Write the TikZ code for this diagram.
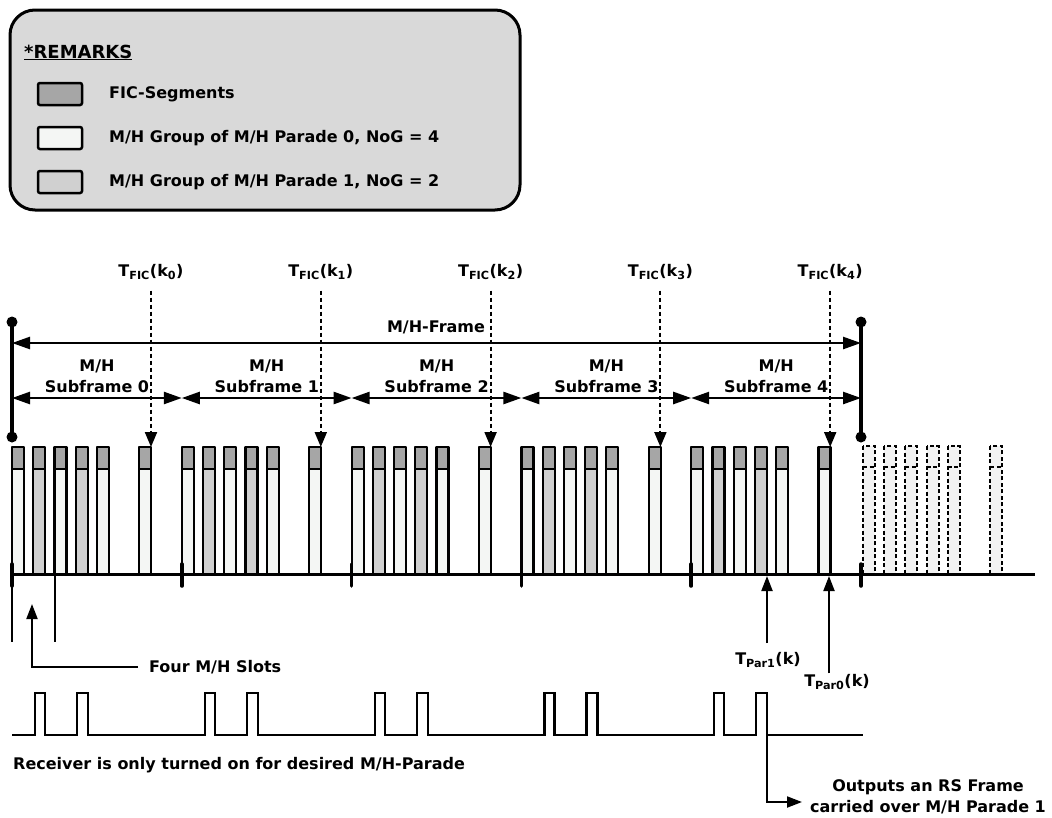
\documentclass[tikz,border=0pt]{standalone}
\usepackage{fontspec}
\setmainfont{DejaVu Sans}
\usetikzlibrary{arrows.meta, positioning}
\definecolor{remarkgray}{HTML}{D9D9D9}
\definecolor{ficgray}{HTML}{A6A6A6}
\definecolor{parzero}{HTML}{F4F6F4}
\definecolor{parone}{HTML}{D0D0D0}
\definecolor{emptyslot}{HTML}{F2F2F2}
\tikzset{
  lbl/.style={font=\bfseries\fontsize{16}{21}\selectfont, inner sep=1pt},
  slotbox/.style={line width=2.2pt, line join=round},
  dashslot/.style={line width=2pt, dash pattern=on 4pt off 2.5pt, fill=emptyslot},
  legendbox/.style={line width=2.5pt, rounded corners=2pt},
  span/.style={line width=2.5pt, {Triangle[length=18pt,width=12pt]}-{Triangle[length=18pt,width=12pt]}},
  ficarrow/.style={line width=2pt, dash pattern=on 4pt off 3pt, -{Triangle[length=15pt,width=12pt]}},
  uparrow/.style={line width=2pt, -{Triangle[length=15pt,width=11pt]}},
}

\begin{document}
\begin{tikzpicture}[x=1pt, y=-1pt]
    \useasboundingbox (0,0) rectangle (1052,817);

    % remarks
    \draw[line width=3pt, rounded corners=25pt, fill=remarkgray] (10,10) rectangle (520,210);
    \node[lbl, font=\bfseries\fontsize{18}{20}\selectfont, anchor=base west] (remarks) at (23,58) {\underline{*REMARKS}};
    \draw[legendbox, fill=ficgray] (38,83) rectangle (82,105);
    \draw[legendbox, fill=parzero] (38,127) rectangle (82,149);
    \draw[legendbox, fill=parone] (38,171) rectangle (82,193);
    \node[lbl, anchor=west] (legfic) at (108,94) {FIC-Segments};
    \node[lbl, anchor=west] (legpar0) at (108,138) {M/H Group of M/H Parade 0, NoG = 4};
    \node[lbl, anchor=west] (legpar1) at (108,182) {M/H Group of M/H Parade 1, NoG = 2};

    % frame and subframes
    \draw[line width=4pt] (12,322) -- (12,437);
    \draw[line width=4pt] (861,322) -- (861,437);
    \foreach \x in {12,861} {
        \fill (\x,322) circle (5.5);
        \fill (\x,437) circle (5.5);
    }
    \coordinate (fstart) at (12,343);
    \coordinate (fend) at (861,343);
    \draw[span] (fstart) -- (fend);
    \node[lbl] (frame) at (436,327) {M/H-Frame};

    \foreach \s in {0,...,4} {
        \coordinate (sf\s) at ({12+169.8*\s},398);
        \coordinate (sfe\s) at ({12+169.8*(\s+1)},398);
        \draw[span] (sf\s) -- (sfe\s);
        \node[lbl, align=center] (sflabel\s) at ({97+169.8*\s},376) {M/H\\Subframe \s};
    }

    % slots
    \foreach \s in {0,...,4} {
        \foreach \i/\col in {0/parzero,1/parone,2/parzero,3/parone,4/parzero,6/parzero} {
            \pgfmathsetmacro\xl{12+169.8*\s+21.22*\i}
            \fill[\col] (\xl,469) rectangle ++(12,105);
            \fill[ficgray] (\xl,447) rectangle ++(12,22);
            \draw[slotbox] (\xl,447) rectangle ++(12,127);
            \draw[slotbox] (\xl,469) -- ++(12,0);
        }
    }
    \foreach \i in {0,...,4,6} {
        \pgfmathsetmacro\xl{863+21.22*\i}
        \draw[dashslot] (\xl,446) rectangle ++(12,128);
        \draw[dashslot] (\xl,467) -- ++(12,0);
    }
    \draw[line width=3pt] (12,574) -- (1035,574);
    \foreach \s in {0,...,5}
        \draw[line width=3.5pt, line cap=round] ({12+169.8*\s},564) -- ++(0,22);

    % FIC arrows
    \foreach \s in {0,...,4} {
        \node[lbl] (tfic\s) at ({151+169.8*\s},272) {T\textsubscript{FIC}(k\textsubscript{\s})};
        \coordinate (fic\s) at ({151+169.8*\s},447);
        \draw[ficarrow] (tfic\s.south) ++(0,10) -- (fic\s);
    }

    % four slots
    \draw[line width=1.8pt] (12,574) -- (12,642);
    \draw[line width=1.8pt] (55,574) -- (55,642);
    \node[lbl, anchor=west] (fourslots) at (148,667) {Four M/H Slots};
    \coordinate (fourtip) at (32,604);
    \draw[uparrow] ([xshift=-10pt]fourslots.west) -| (fourtip);

    % parade time arrows
    \node[lbl] (tpar1) at (768,660) {T\textsubscript{Par1}(k)};
    \node[lbl] (tpar0) at (837,682) {T\textsubscript{Par0}(k)};
    \coordinate (par1) at (767,576);
    \coordinate (par0) at (829,576);
    \draw[uparrow] (767,643) -- (par1);
    \draw[uparrow] (par0 |- tpar0.north) -- (par0);

    % receiver on-time
    \draw[line width=2.2pt, line join=miter] (12,735)
        \foreach \s in {0,...,4} {
            -- ({35+169.8*\s},735) -- ++(0,-42) -- ++(10,0) -- ++(0,42)
            -- ({77+169.8*\s},735) -- ++(0,-42) -- ++(11,0) -- ++(0,42)
        } -- (863,735);
    \node[lbl, anchor=west] (receiver) at (12,765) {Receiver is only turned on for desired M/H-Parade};

    % output
    \coordinate (outpulse) at (767,735);
    \coordinate (outtip) at (802,802);
    \draw[uparrow] (outpulse) |- (outtip);
    \node[lbl, align=center] (output) at (928,797) {Outputs an RS Frame\\carried over M/H Parade 1};
\end{tikzpicture}
\end{document}
